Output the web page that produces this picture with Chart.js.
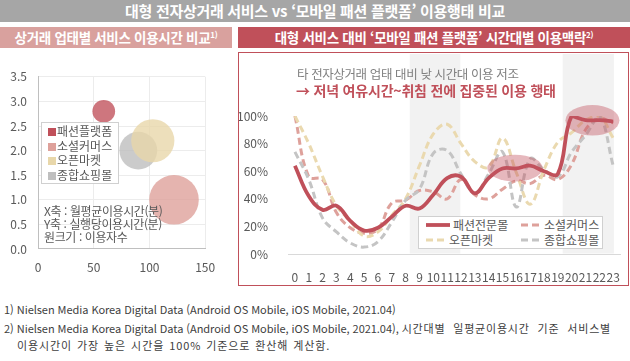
<!DOCTYPE html>
<html lang="ko">
<head>
<meta charset="utf-8">
<script src="https://cdn.jsdelivr.net/npm/chart.js@4/dist/chart.umd.min.js"></script>
<style>
  * { box-sizing: border-box; }
  body { margin: 0; width: 630px; height: 361px; background: #fff; position: relative; overflow: hidden;
         font-family: "Noto Sans CJK KR", "Noto Sans", sans-serif; color: #595959; }
  .abs { position: absolute; }
  #title { left: 0; top: 0; width: 630px; height: 22px; background: #a6a6a6; color: #fff;
           font-weight: bold; font-size: 15px; line-height: 22px; text-align: center; letter-spacing: -0.3px; }
  .sub { top: 27px; height: 21px; color: #fff; font-weight: bold; font-size: 13.5px; line-height: 21px; text-align: center; letter-spacing: -0.3px; }
  .sub sup { font-size: 8px; line-height: 0; }
  #subL { left: 0; width: 232px; background: #d9a19e; }
  #subR { left: 238px; width: 392px; background: #c0505a; }
  #box { left: 238px; top: 52px; width: 391px; height: 234px; border: 1.5px solid #c0505a; }
  #note1 { left: 297px; top: 64px; font-size: 12.5px; color: #7f7f7f; letter-spacing: -0.4px; }
  #note2 { left: 296px; top: 80px; font-size: 14px; font-weight: bold; color: #c0505a; letter-spacing: -0.2px; }
  #axisNote { left: 44px; top: 204px; font-size: 12px; line-height: 13px; color: #595959; letter-spacing: -0.4px; }
  .legend { background: #fff; border: 1px solid #d0d0d0; font-size: 12px; color: #595959; }
  .legend .it { position: absolute; white-space: nowrap; line-height: 14px; }
  .legend .sq { display: inline-block; width: 8px; height: 8px; margin-right: 1px; vertical-align: 0px; }
  .foot { left: 4px; font-size: 11px; color: #404040; letter-spacing: -0.05px; white-space: nowrap; }
  .foot .ko { letter-spacing: 0.8px; word-spacing: 4px; }
  .foot .ko3 { letter-spacing: 0.9px; word-spacing: 1px; }
</style>
</head>
<body>
<div id="title" class="abs">대형 전자상거래 서비스 vs ‘모바일 패션 플랫폼’ 이용행태 비교</div>
<div id="subL" class="abs sub">상거래 업태별 서비스 이용시간 비교<sup>1)</sup></div>
<div id="subR" class="abs sub">대형 서비스 대비 ‘모바일 패션 플랫폼’ 시간대별 이용맥락<sup>2)</sup></div>
<div id="box" class="abs"></div>

<canvas id="bubbleChart" class="abs" style="left:0;top:52px;width:230px;height:227px"></canvas>
<canvas id="lineChart" class="abs" style="left:239px;top:54px;width:389px;height:230px"></canvas>

<div id="note1" class="abs">타 전자상거래 업태 대비 낮 시간대 이용 저조</div>
<div id="note2" class="abs">→ 저녁 여유시간~취침 전에 집중된 이용 행태</div>
<div id="axisNote" class="abs">X축 : 월평균이용시간(분)<br>Y축 : 실행당이용시간(분)<br>원크기 : 이용자수</div>

<div id="legendL" class="abs legend" style="left:41px;top:122px;width:78px;height:62px"></div>
<div id="legendR" class="abs legend" style="left:418px;top:216px;width:185px;height:33px"></div>

<div class="abs foot" style="top:301px">1) Nielsen Media Korea Digital Data (Android OS Mobile, iOS Mobile, 2021.04)</div>
<div class="abs foot" style="top:320px">2) Nielsen Media Korea Digital Data (Android OS Mobile, iOS Mobile, 2021.04), <span class="ko">시간대별 일평균이용시간 기준 서비스별</span></div>
<div class="abs foot" style="top:337px;left:17px"><span class="ko3">이용시간이 가장 높은 시간을 100% 기준으로 환산해 계산함.</span></div>

<script>
// 버블 차트 데이터 (업태별)
const serviceNames = ['패션플랫폼', '소셜커머스', '오픈마켓', '종합쇼핑몰'];
const monthlyMinutes = [59, 122, 103, 90];     // X축 : 월평균이용시간(분)
const minutesPerRun = [2.8, 1.0, 2.2, 2.0];    // Y축 : 실행당이용시간(분)
const userCounts = [13, 62, 47, 36];            // 원크기 : 이용자수 (상대값)

// 라인 차트 데이터 (시간대별, %)
const hours = ['0','1','2','3','4','5','6','7','8','9','10','11','12','13','14','15','16','17','18','19','20','21','22','23'];
const fashionMall = [64, 42, 32, 35, 24, 17, 19, 27, 35, 33, 43, 55, 56, 44, 55, 62, 62, 64, 60, 58, 100, 97, 97, 96];
const socialCommerce = [100, 56, 54, 30, 19, 15, 18, 37, 39, 46, 45, 40, 54, 43, 40, 47, 53, 51, 57, 54, 65, 90, 98, 95];
const openMarket = [100, 80, 56, 35, 24, 13, 16, 28, 40, 64, 87, 94, 80, 67, 63, 84, 59, 36, 61, 81, 88, 97, 100, 84];
const generalMall = [74, 54, 26, 16, 8, 5, 9, 23, 39, 47, 73, 75, 58, 44, 58, 74, 34, 69, 61, 56, 74, 86, 100, 64];
const percentTicks = [0, 20, 40, 60, 80, 100];

// 강조 구간 (시간 단위) 과 타원 강조
const shadeBands = [[8.3, 11.95], [19.35, 23.05]];
const highlights = [
    { hour: 15.9, pct: 62.3, hw: 2.0, hh: 9.7 },
    { hour: 21.5, pct: 96.9, hw: 1.95, hh: 11.1 }
];

const bubbleFill = ['rgba(192,80,90,0.78)', 'rgba(222,161,155,0.8)', 'rgba(232,215,170,0.8)', 'rgba(190,190,190,0.8)'];
const bubbleSolid = ['#c0505a', '#dea19b', '#e8d7aa', '#bfbfbf'];
const tickFont = { family: 'Noto Sans CJK KR', size: 12 };

Chart.defaults.font.family = 'Noto Sans CJK KR';
Chart.defaults.color = '#595959';

// 좌측 버블 차트
new Chart(document.getElementById('bubbleChart'), {
    type: 'bubble',
    data: {
        datasets: serviceNames.map((name, i) => ({
            label: name,
            data: [{ x: monthlyMinutes[i], y: minutesPerRun[i], r: Math.sqrt(userCounts[i]) * 3.15 }],
            backgroundColor: bubbleFill[i],
            borderWidth: 0,
            hoverRadius: 0
        }))
    },
    options: {
        responsive: false,
        animation: false,
        layout: { padding: { top: 14, right: 18, left: 0, bottom: 0 } },
        plugins: { legend: { display: false }, tooltip: { enabled: false } },
        scales: {
            x: {
                min: 0, max: 150,
                ticks: { stepSize: 50, font: tickFont, padding: 11, color: '#595959' },
                grid: { color: '#ececec', drawTicks: false },
                border: { color: '#bfbfbf' },
                afterFit: s => { s.height = 30; }
            },
            y: {
                min: 0, max: 3.5,
                ticks: { stepSize: 0.5, font: tickFont, padding: 11, color: '#595959',
                         callback: v => v.toFixed(1) },
                grid: { color: '#ececec', drawTicks: false },
                border: { color: '#bfbfbf' },
                afterFit: s => { s.width = 38; }
            }
        }
    }
});

// 음영 구간 + 타원 강조 플러그인
const shadePlugin = {
    id: 'shade',
    beforeDatasetsDraw(chart) {
        const { ctx, scales: { x, y } } = chart;
        ctx.save();
        ctx.fillStyle = '#f2f2f2';
        shadeBands.forEach(([a, b]) => {
            const x1 = x.getPixelForValue(a), x2 = x.getPixelForValue(b);
            ctx.fillRect(x1, 0, x2 - x1, y.getPixelForValue(0) - 0.5);
        });
        ctx.restore();
    },
    afterDatasetsDraw(chart) {
        const { ctx, scales: { x, y } } = chart;
        ctx.save();
        ctx.fillStyle = 'rgba(196,86,98,0.42)';
        highlights.forEach(h => {
            const cx = x.getPixelForValue(h.hour), cy = y.getPixelForValue(h.pct);
            const rx = x.getPixelForValue(h.hour + h.hw) - cx;
            const ry = cy - y.getPixelForValue(h.pct + h.hh);
            ctx.beginPath();
            ctx.ellipse(cx, cy, rx, ry, 0, 0, Math.PI * 2);
            ctx.fill();
        });
        ctx.restore();
    }
};

const lineSeries = [
    { label: '패션전문몰', data: fashionMall, color: '#c0505a', width: 3.8, dash: [] },
    { label: '소셜커머스', data: socialCommerce, color: '#dea19b', width: 3, dash: [7, 4] },
    { label: '오픈마켓', data: openMarket, color: '#ead9af', width: 3, dash: [7, 4] },
    { label: '종합쇼핑몰', data: generalMall, color: '#c4c4c4', width: 3, dash: [7, 4] }
];
// 패션전문몰이 맨 위에 그려지도록 order 지정
const lineOrder = [0, 3, 2, 1];

new Chart(document.getElementById('lineChart'), {
    type: 'line',
    data: {
        labels: hours,
        datasets: lineSeries.map((s, i) => ({
            label: s.label,
            data: s.data,
            borderColor: s.color,
            borderWidth: s.width,
            borderDash: s.dash,
            pointRadius: 0,
            tension: 0.4,
            fill: false,
            order: lineOrder[i]
        }))
    },
    options: {
        responsive: false,
        animation: false,
        layout: { padding: { top: 62, right: 7, left: 0, bottom: 0 } },
        plugins: { legend: { display: false }, tooltip: { enabled: false } },
        scales: {
            x: {
                offset: true,
                ticks: { font: tickFont, padding: 8, autoSkip: false, maxRotation: 0, color: '#595959' },
                grid: { display: false },
                border: { color: '#d9d9d9' },
                afterFit: s => { s.height = 30; }
            },
            y: {
                min: 0, max: 100,
                afterBuildTicks: s => { s.ticks = percentTicks.map(v => ({ value: v })); },
                ticks: { font: tickFont, padding: 12, color: '#595959', callback: v => v + '%' },
                grid: { display: false },
                border: { display: false },
                afterFit: s => { s.width = 49; }
            }
        }
    },
    plugins: [shadePlugin]
});

// 좌측 범례
const legendL = document.getElementById('legendL');
serviceNames.forEach((name, i) => {
    const d = document.createElement('div');
    d.className = 'it';
    d.style.left = '6px';
    d.style.top = (1 + i * 14.5) + 'px';
    d.innerHTML = `<span class="sq" style="background:${bubbleSolid[i]}"></span>${name}`;
    legendL.appendChild(d);
});

// 우측 범례 (2열)
const legendR = document.getElementById('legendR');
const legendPos = [[7, 1], [102, 1], [7, 16], [102, 16]];
lineSeries.forEach((s, i) => {
    const d = document.createElement('div');
    d.className = 'it';
    d.style.left = legendPos[i][0] + 'px';
    d.style.top = legendPos[i][1] + 'px';
    const len = i === 0 ? 24 : 20;
    const dash = s.dash.length ? `stroke-dasharray="${s.dash.join(',')}"` : '';
    d.innerHTML = `<svg width="${len + 3}" height="8" style="vertical-align:1px"><line x1="0" y1="4" x2="${len}" y2="4" stroke="${s.color}" stroke-width="${s.width}" ${dash}/></svg>${s.label}`;
    legendR.appendChild(d);
});
</script>
</body>
</html>
